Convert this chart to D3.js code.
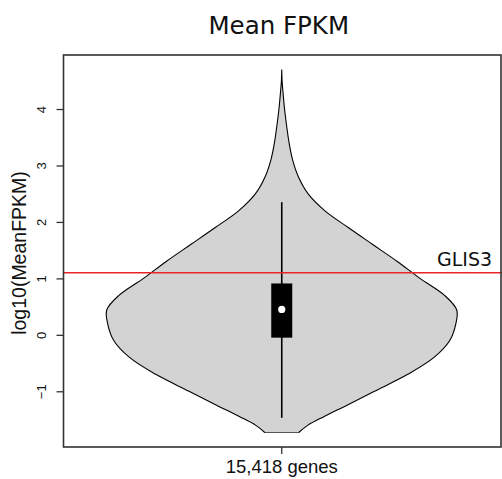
<!DOCTYPE html>
<html><head><meta charset="utf-8">
<script src="https://cdn.jsdelivr.net/npm/d3@7"></script>
<style>body{margin:0;background:#fff}svg{display:block}</style>
</head><body>
<script>
// Data
const title = "Mean FPKM";
const yLabel = "log10(MeanFPKM)";
const xCategory = "15,418 genes";
const yTicks = [-1, 0, 1, 2, 3, 4];
// violin outline: log10 values and relative density (max = 1)
const densityY = [-1.73, -1.6, -1.45, -1.25, -1.0, -0.7, -0.4, -0.1, 0.2, 0.44, 0.7, 1.0, 1.3, 1.6, 1.9, 2.2, 2.5, 2.8, 3.1, 3.4, 3.7, 4.0, 4.3, 4.5, 4.7];
const densityV = [0.097, 0.15, 0.24, 0.37, 0.53, 0.72, 0.87, 0.96, 0.995, 1.0, 0.93, 0.79, 0.66, 0.52, 0.38, 0.245, 0.15, 0.095, 0.062, 0.042, 0.028, 0.016, 0.007, 0.002, 0.0];
// box summary
const whiskerLow = -1.47, q1 = -0.05, median = 0.45, q3 = 0.91, whiskerHigh = 2.35;
const markerValue = 1.1, markerLabel = "GLIS3";

const W = 502, H = 479;
const svg = d3.select("body").append("svg").attr("width", W).attr("height", H);
const mL = 63.5, mR = 501, mT = 55, mB = 447;

const y = d3.scaleLinear().domain([-1.987, 4.957]).range([mB, mT]);
const x = d3.scaleBand().domain([xCategory]).range([mL, mR]).paddingInner(0).paddingOuter(0);
const cx = x(xCategory) + x.bandwidth() / 2 - 0.5;
const w = d3.scaleLinear().domain([0, 1]).range([0, 175]);

const pts = densityY.map((v, i) => [v, densityV[i]]);
const area = d3.area()
  .y(d => y(d[0]))
  .x0(d => cx - w(d[1]))
  .x1(d => cx + w(d[1]))
  .curve(d3.curveCatmullRom.alpha(0.5));
svg.append("path").datum(pts).attr("d", area)
  .attr("fill", "#d3d3d3").attr("stroke", "#000").attr("stroke-width", 1.1);
// flat bottom edge
svg.append("line").attr("x1", cx - w(densityV[0])).attr("x2", cx + w(densityV[0]))
  .attr("y1", y(densityY[0])).attr("y2", y(densityY[0])).attr("stroke", "#555").attr("stroke-width", 1.1);

// whisker
svg.append("line").attr("x1", cx).attr("x2", cx).attr("y1", y(whiskerLow)).attr("y2", y(whiskerHigh))
  .attr("stroke", "#000").attr("stroke-width", 1.6);
// box
svg.append("rect").attr("x", cx - 10.5).attr("width", 21).attr("y", y(q3)).attr("height", y(q1) - y(q3))
  .attr("fill", "#000");
svg.append("circle").attr("cx", cx).attr("cy", y(median)).attr("r", 3.6).attr("fill", "#fff");

// marker line
svg.append("line").attr("x1", mL).attr("x2", W).attr("y1", y(markerValue)).attr("y2", y(markerValue))
  .attr("stroke", "#e8262a").attr("stroke-width", 1.3);
svg.append("text").attr("x", 437).attr("y", y(markerValue) - 7).text(markerLabel)
  .attr("font-family", "DejaVu Sans, sans-serif").attr("font-size", 19).attr("fill", "#111");

// frame
svg.append("rect").attr("x", mL).attr("y", mT).attr("width", mR - mL).attr("height", mB - mT)
  .attr("fill", "none").attr("stroke", "#333").attr("stroke-width", 1.6);

// y axis
const yAxis = d3.axisLeft(y).tickValues(yTicks).tickSize(7).tickFormat(d => d < 0 ? "\u2212" + Math.abs(d) : d);
const ga = svg.append("g").attr("transform", `translate(${mL},0)`).call(yAxis);
ga.select(".domain").remove();
ga.selectAll(".tick line").attr("stroke", "#333").attr("stroke-width", 1.3);
ga.selectAll(".tick text").attr("transform", "rotate(-90)").attr("x", 0).attr("y", -17.5)
  .attr("dy", 0).attr("text-anchor", "middle")
  .attr("font-family", "Liberation Sans, Arial, sans-serif").attr("font-size", 13).attr("fill", "#111");

// x axis
const xAxis = d3.axisBottom(x).tickSize(7);
const gx = svg.append("g").attr("transform", `translate(-0.5,${mB})`).call(xAxis);
gx.select(".domain").remove();
gx.selectAll(".tick line").attr("stroke", "#333").attr("stroke-width", 1.3);
gx.selectAll(".tick text").attr("y", 13).attr("dy", "0.71em")
  .attr("font-family", "Liberation Sans, Arial, sans-serif").attr("font-size", 18.5).attr("fill", "#111");

// labels
svg.append("text").attr("x", cx - 3).attr("y", 34).attr("text-anchor", "middle").text(title)
  .attr("font-family", "DejaVu Sans, sans-serif").attr("font-size", 24.5).attr("fill", "#111");
svg.append("text").attr("transform", `translate(26,${(mT + mB) / 2 + 2}) rotate(-90)`)
  .attr("text-anchor", "middle").text(yLabel)
  .attr("font-family", "Liberation Sans, Arial, sans-serif").attr("font-size", 19.5).attr("fill", "#111");
</script>
</body></html>
